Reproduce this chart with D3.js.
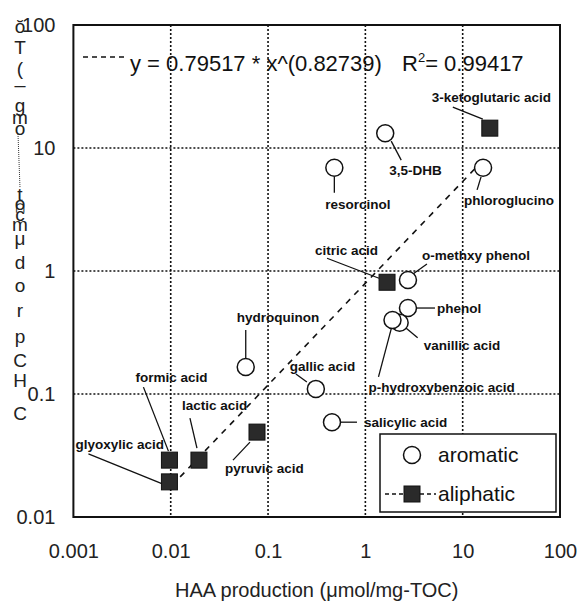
<!DOCTYPE html>
<html><head><meta charset="utf-8">
<script src="https://cdn.jsdelivr.net/npm/d3@7/dist/d3.min.js"></script>
<style>body{margin:0;background:#fff}svg{display:block}</style>
</head><body>
<svg id="c" width="578" height="604"></svg>
<script>
// ---- data ----
const aromaticNames = ["3,5-DHB","resorcinol","phloroglucino","o-methxy phenol","phenol","vanillic acid","p-hydroxybenzoic acid","hydroquinon","gallic acid","salicylic acid"];
const aromaticX = [1.6, 0.48, 16.2, 2.74, 2.74, 2.25, 1.9, 0.059, 0.31, 0.454];
const aromaticY = [13.2, 6.9, 6.9, 0.845, 0.50, 0.38, 0.40, 0.166, 0.11, 0.059];
const aliphaticNames = ["3-ketoglutaric acid","citric acid","formic acid","glyoxylic acid","lactic acid","pyruvic acid"];
const aliphaticX = [19, 1.67, 0.0097, 0.0097, 0.0195, 0.077];
const aliphaticY = [14.5, 0.81, 0.029, 0.0193, 0.029, 0.049];
const xTicks = [0.001, 0.01, 0.1, 1, 10, 100];
const yTicks = [0.01, 0.1, 1, 10, 100];
const xTickLabels = ["0.001","0.01","0.1","1","10","100"];
const yTickLabels = ["0.01","0.1","1","10","100"];
const fitA = 0.79517, fitB = 0.82739, fitR2 = "0.99417";
const fitRange = [0.0125, 17];
const xTitle = "HAA production (\u03bcmol/mg-TOC)";
const legendNames = ["aromatic","aliphatic"];

// ---- layout (label offsets in px relative to point) ----
const labelLayout = {
  "3,5-DHB":[4,37, 6,8,16,27],
  "resorcinol":[-9,36, 0,9,0,25],
  "phloroglucino":[-19,32, -2,9,-6,22],
  "o-methxy phenol":[14,-25, 5,-6,19,-16],
  "phenol":[29,0, 9,0,27,0],
  "vanillic acid":[24,23, 6,5,18,15],
  "p-hydroxybenzoic acid":[-24,67, -1,8,-14,57],
  "hydroquinon":[-9,-50, 0,-9,0,-37],
  "gallic acid":[-26,-23, -9,-7,-20,-15],
  "salicylic acid":[32,0, 9,0,25,0],
  "3-ketoglutaric acid":[-58,-31, -37,-21,-7,-9],
  "citric acid":[-72,-32, -60,-24,-8,-4],
  "formic acid":[-34,-83, -26,-73,-1,-9],
  "glyoxylic acid":[-94,-38, -81,-28,-7,2],
  "lactic acid":[-17,-55, -9,-42,-2,-12],
  "pyruvic acid":[-32,36, -24,28,-7,10]
};

const svg = d3.select("#c");
const L = 73.4, R = 560, T = 25, B = 517;
const x = d3.scaleLog().domain([0.001, 100]).range([L, R]);
const y = d3.scaleLog().domain([0.01, 100]).range([B, T]);
const font = "'Liberation Sans', Arial, sans-serif";

// grid
const g = svg.append("g");
g.selectAll("line.gx").data(xTicks.slice(1, -1)).enter().append("line")
  .attr("x1", d => x(d)).attr("x2", d => x(d)).attr("y1", T).attr("y2", B)
  .attr("stroke", "#111").attr("stroke-width", 1.6).attr("stroke-dasharray", "2,2");
g.selectAll("line.gy").data(yTicks.slice(1, -1)).enter().append("line")
  .attr("y1", d => y(d)).attr("y2", d => y(d)).attr("x1", L).attr("x2", R)
  .attr("stroke", "#111").attr("stroke-width", 1.6).attr("stroke-dasharray", "2,2");

// axes (labels only, frame separately)
const xAxis = d3.axisBottom(x).tickValues(xTicks).tickFormat((d, i) => xTickLabels[i]).tickSize(0).tickPadding(0);
const xa = svg.append("g").attr("transform", `translate(0,${B + 27})`).call(xAxis);
xa.select(".domain").remove();
xa.selectAll("text").attr("font-family", font).attr("font-size", 20).attr("fill", "#222");
const yAxis = d3.axisLeft(y).tickValues(yTicks).tickFormat((d, i) => yTickLabels[i]).tickSize(0).tickPadding(0);
const ya = svg.append("g").attr("transform", `translate(${L - 18},0)`).call(yAxis);
ya.select(".domain").remove();
ya.selectAll("text").attr("font-family", font).attr("font-size", 20).attr("fill", "#222");

// frame
svg.append("rect").attr("x", L).attr("y", T).attr("width", R - L).attr("height", B - T)
  .attr("fill", "none").attr("stroke", "#111").attr("stroke-width", 2);

// fit line
const fitPts = d3.range(0, 41).map(i => {
  const lx = Math.log10(fitRange[0]) + (Math.log10(fitRange[1]) - Math.log10(fitRange[0])) * i / 40;
  const xv = Math.pow(10, lx);
  return [xv, fitA * Math.pow(xv, fitB)];
});
svg.append("path").attr("d", d3.line().x(d => x(d[0])).y(d => y(d[1]))(fitPts))
  .attr("fill", "none").attr("stroke", "#111").attr("stroke-width", 1.6).attr("stroke-dasharray", "6,6");

// equation
svg.append("line").attr("x1", 83).attr("x2", 128).attr("y1", 57).attr("y2", 57)
  .attr("stroke", "#111").attr("stroke-width", 1.5).attr("stroke-dasharray", "5,4");
svg.append("text").attr("x", 130).attr("y", 71).attr("font-family", font).attr("font-size", 22).attr("fill", "#111")
  .text(`y = ${fitA} * x^(${fitB})`);
const rt = svg.append("text").attr("x", 402).attr("y", 71).attr("font-family", font).attr("font-size", 22).attr("fill", "#111");
rt.append("tspan").text("R");
rt.append("tspan").attr("dy", -9).attr("font-size", 13).text("2");
rt.append("tspan").attr("dy", 9).text("= " + fitR2);

// leader lines and labels
function annotate(names, xs, ys) {
  names.forEach((n, i) => {
    const px = x(xs[i]), py = y(ys[i]);
    const a = labelLayout[n];
    svg.append("line").attr("x1", px + a[2]).attr("y1", py + a[3]).attr("x2", px + a[4]).attr("y2", py + a[5])
      .attr("stroke", "#111").attr("stroke-width", 1.3);
    svg.append("text").attr("x", px + a[0]).attr("y", py + a[1]).attr("dy", "0.35em")
      .attr("font-family", font).attr("font-weight", "bold").attr("font-size", 13.5).attr("fill", "#111").text(n);
  });
}
annotate(aromaticNames, aromaticX, aromaticY);
annotate(aliphaticNames, aliphaticX, aliphaticY);

// markers
svg.selectAll("circle.ar").data(aromaticNames).enter().append("circle")
  .attr("cx", (d, i) => x(aromaticX[i])).attr("cy", (d, i) => y(aromaticY[i])).attr("r", 8.5)
  .attr("fill", "#fff").attr("stroke", "#111").attr("stroke-width", 1.5);
svg.selectAll("rect.al").data(aliphaticNames).enter().append("rect")
  .attr("x", (d, i) => x(aliphaticX[i]) - 8).attr("y", (d, i) => y(aliphaticY[i]) - 8)
  .attr("width", 16).attr("height", 16).attr("fill", "#2a2a2a").attr("stroke", "#111").attr("stroke-width", 1);

// legend
const lg = svg.append("g");
lg.append("rect").attr("x", 380).attr("y", 434).attr("width", 176).attr("height", 78)
  .attr("fill", "#fff").attr("stroke", "#111").attr("stroke-width", 1.5);
lg.append("circle").attr("cx", 412).attr("cy", 455).attr("r", 8.5).attr("fill", "#fff").attr("stroke", "#111").attr("stroke-width", 1.5);
lg.append("line").attr("x1", 385).attr("x2", 436).attr("y1", 494).attr("y2", 494).attr("stroke", "#111").attr("stroke-width", 1.3).attr("stroke-dasharray", "4,3");
lg.append("rect").attr("x", 404).attr("y", 486).attr("width", 16).attr("height", 16).attr("fill", "#2a2a2a").attr("stroke", "#111");
lg.selectAll("text").data(legendNames).enter().append("text")
  .attr("x", 438).attr("y", (d, i) => i ? 494 : 455).attr("dy", "0.35em")
  .attr("font-family", font).attr("font-size", 21).attr("fill", "#111").text(d => d);

// x title
svg.append("text").attr("x", (L + R) / 2).attr("y", 597).attr("text-anchor", "middle")
  .attr("font-family", font).attr("font-size", 20).attr("fill", "#222").text(xTitle);

// garbled y title: stacked upright characters as in the source
const yTitleChars = [["\u014f",26],["T",47],["(",68],["_",76],["g",105],["m",117],["o",128],["t",194],["\u2229",206],["o",203],["c",214],["m",224],["\u03bc",238],["d",262],["o",285],["r",310],["p",336],["C",360],["H",380],["C",413]];
const yt = svg.append("g");
yTitleChars.forEach(([ch, yy]) => {
  yt.append("text").attr("x", 20).attr("y", yy).attr("dy", "0.35em").attr("text-anchor", "middle")
    .attr("font-family", font).attr("font-size", 19).attr("fill", "#222").text(ch);
});
yt.append("line").attr("x1", 18).attr("x2", 20).attr("y1", 134).attr("y2", 188).attr("stroke", "#333").attr("stroke-width", 1).attr("stroke-dasharray", "1,1");
</script>
</body></html>
